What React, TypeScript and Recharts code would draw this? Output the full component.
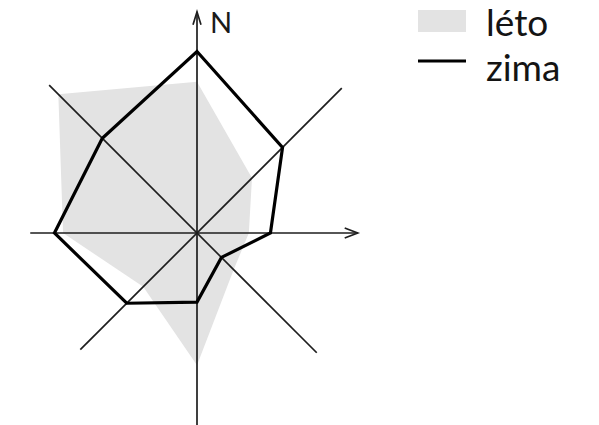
import React from 'react';
import { RadarChart, Radar, PolarAngleAxis, PolarRadiusAxis, Legend } from 'recharts';

// wind directions, clockwise from north
const directions = ['N', 'NE', 'E', 'SE', 'S', 'SW', 'W', 'NW'];
// share of wind (%) per direction
const leto = [17.5, 9, 6, 6, 15.3, 8.8, 15.5, 22.7];
const zima = [21, 14, 8.5, 4, 8, 11.5, 16.5, 15.5];
// how far each compass line reaches, same units
const axisReach = [25.6, 23.7, 18.6, 19.6, 22.7, 19.1, 19.3, 24.2];

const seriesNames = ['léto', 'zima'];

const W = 599;
const H = 425;
const CX = 197;
const CY = 233;
const MAX = 25;
const OUTER = 216;
const FONT = 'Lato, "DejaVu Sans", sans-serif';

const data = directions.map((d, i) => ({ dir: d, leto: leto[i], zima: zima[i] }));

const toXY = (i: number, v: number) => {
  const a = ((90 - 45 * i) * Math.PI) / 180;
  const r = (v / MAX) * OUTER;
  return { x: CX + r * Math.cos(a), y: CY - r * Math.sin(a) };
};

function CompassAxes() {
  const n = toXY(0, axisReach[0]);
  const e = toXY(2, axisReach[2]);
  return (
    <g stroke="#1e1e1e" strokeWidth={1.7} fill="none">
      {[0, 1, 2, 3].map((i) => {
        const a = toXY(i, axisReach[i]);
        const b = toXY(i + 4, axisReach[i + 4]);
        return <line key={i} x1={a.x} y1={a.y} x2={b.x} y2={b.y} />;
      })}
      <polyline points={`${n.x - 4},${n.y + 13} ${n.x},${n.y} ${n.x + 4},${n.y + 13}`} />
      <polyline points={`${e.x - 13},${e.y - 5} ${e.x},${e.y} ${e.x - 13},${e.y + 5}`} />
      <text x={n.x + 13} y={n.y + 21} fill="#1a1a1a" stroke="none" fontFamily={FONT} fontSize={29}>
        {directions[0]}
      </text>
    </g>
  );
}

// summer area, with the compass lines drawn over it
function SummerShape(props: any) {
  const pts = (props.points || []).map((p: any) => `${p.x},${p.y}`).join(' ');
  return (
    <g>
      <polygon points={pts} fill="#e3e3e3" stroke="none" />
      <CompassAxes />
    </g>
  );
}

function LegendBox() {
  return (
    <svg width={180} height={95} style={{ display: 'block' }}>
      <rect x={0} y={10} width={48} height={22} fill="#e3e3e3" />
      <text x={68} y={36} fontFamily={FONT} fontSize={37} fill="#141414">{seriesNames[0]}</text>
      <line x1={0} x2={48} y1={61} y2={61} stroke="#000" strokeWidth={3} />
      <text x={68} y={81} fontFamily={FONT} fontSize={37} fill="#141414">{seriesNames[1]}</text>
    </svg>
  );
}

export default function App() {
  return (
    <div style={{ position: 'absolute', left: 0, top: 0, width: W, height: H, background: '#fff' }}>
      <RadarChart
        width={W}
        height={H}
        data={data}
        cx={CX}
        cy={CY}
        outerRadius={OUTER}
        margin={{ top: 0, right: 0, bottom: 0, left: 0 }}
      >
        <PolarAngleAxis dataKey="dir" tick={false} axisLine={false} tickLine={false} />
        <PolarRadiusAxis domain={[0, MAX]} tick={false} axisLine={false} tickLine={false} />
        <Radar
          name={seriesNames[0]}
          dataKey="leto"
          fill="#e3e3e3"
          fillOpacity={1}
          stroke="none"
          shape={SummerShape}
          isAnimationActive={false}
        />
        <Radar
          name={seriesNames[1]}
          dataKey="zima"
          fill="none"
          fillOpacity={0}
          stroke="#000"
          strokeWidth={3.2}
          isAnimationActive={false}
        />
        <Legend
          layout="vertical"
          align="right"
          verticalAlign="top"
          content={() => <LegendBox />}
          wrapperStyle={{ left: 418, top: 0, width: 180 }}
        />
      </RadarChart>
    </div>
  );
}
